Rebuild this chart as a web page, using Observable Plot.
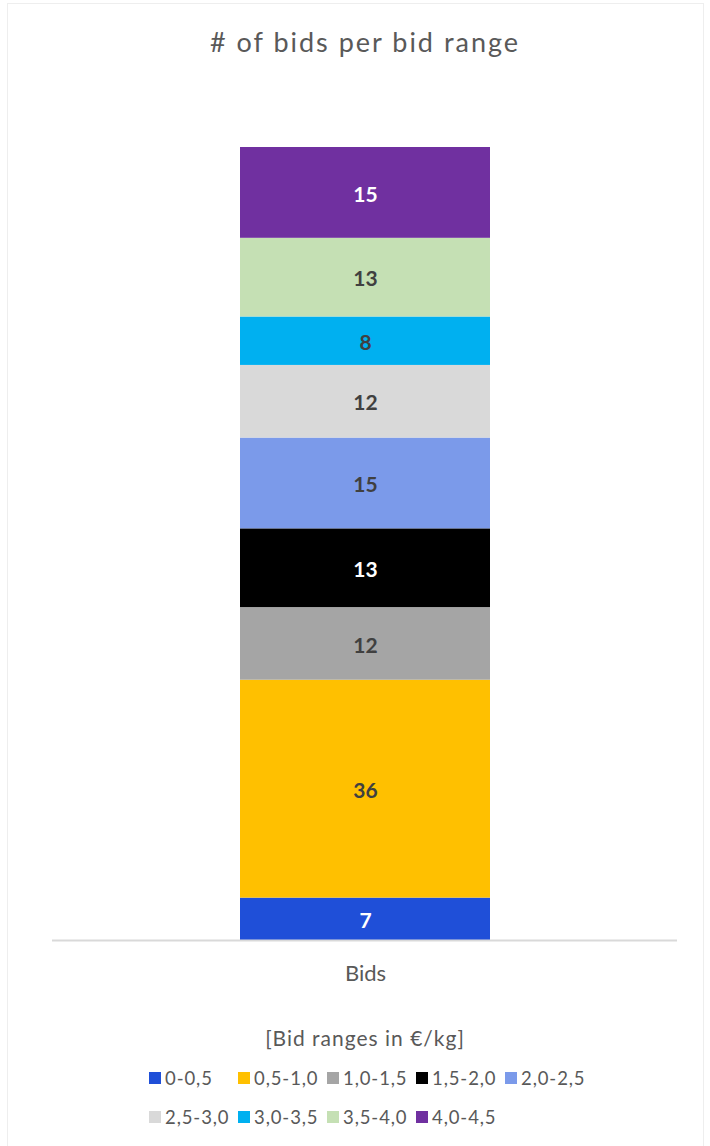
<!DOCTYPE html>
<html>
<head>
<meta charset="utf-8">
<script src="https://cdn.jsdelivr.net/npm/d3@7"></script>
<script src="https://cdn.jsdelivr.net/npm/@observablehq/plot@0.6"></script>
<style>
  html, body { margin: 0; padding: 0; background: #fff; }
  body { width: 710px; height: 1146px; position: relative; overflow: hidden; font-family: "Lato", "Noto Sans", sans-serif; }
  #frame { position: absolute; left: 7px; top: 3px; width: 697px; height: 1160px; border: 1.5px solid #eeeeee; box-sizing: border-box; }
  #title { position: absolute; left: 0; width: 730px; top: 25px; text-align: center; font-size: 27px; color: #595959; letter-spacing: 2px; }
  #chart { position: absolute; left: 0; top: 100px; }
  #legtitle { position: absolute; left: 0; width: 730px; top: 1025px; text-align: center; font-size: 21px; color: #595959; letter-spacing: 1px; }
  #legend { position: absolute; left: 149px; top: 1066px; display: grid; grid-template-columns: repeat(5, 89px); row-gap: 15px; font-size: 18.5px; color: #595959; letter-spacing: 0.9px; }
  .item { display: flex; align-items: center; white-space: nowrap; height: 24px; }
  .sw { width: 12px; height: 12px; margin-right: 4px; flex: none; }
</style>
</head>
<body>
<div id="frame"></div>
<div id="title"># of bids per bid range</div>
<div id="chart"></div>
<div id="legtitle">[Bid ranges in €/kg]</div>
<div id="legend"></div>
<script>
const categories = ["Bids"];
const ranges = ["0-0,5", "0,5-1,0", "1,0-1,5", "1,5-2,0", "2,0-2,5", "2,5-3,0", "3,0-3,5", "3,5-4,0", "4,0-4,5"];
const counts = [7, 36, 12, 13, 15, 12, 8, 13, 15];
const colors = ["#1f4fd8", "#ffc000", "#a5a5a5", "#000000", "#7b9aea", "#d9d9d9", "#00b0f0", "#c5e0b4", "#7030a0"];
const labelColors = ["#ffffff", "#404040", "#404040", "#ffffff", "#404040", "#404040", "#404040", "#404040", "#ffffff"];

const data = ranges.map((r, i) => ({category: categories[0], range: r, count: counts[i], lc: labelColors[i]}));
const total = d3.sum(counts);

const chart = Plot.plot({
  width: 710,
  height: 900,
  marginLeft: 52,
  marginRight: 33,
  marginTop: 47,
  marginBottom: 60,
  style: {fontFamily: "Lato, 'Noto Sans', sans-serif", background: "transparent"},
  x: {domain: categories, padding: 0.4286, label: null},
  y: {domain: [0, total], axis: null},
  color: {domain: ranges, range: colors},
  marks: [
    Plot.barY(data, {x: "category", y: "count", fill: "range", order: ranges}),
    Plot.text(data, Plot.stackY({x: "category", y: "count", order: ranges, text: "count", fill: "lc", fontSize: 21, fontWeight: "bold", dy: 2})),
    Plot.ruleY([0], {stroke: "#d9d9d9", strokeWidth: 2}),
    Plot.axisX({tickSize: 0, tickPadding: 25, fontSize: 22, color: "#595959", fill: "#595959"})
  ]
});
document.getElementById("chart").appendChild(chart);

const leg = document.getElementById("legend");
ranges.forEach((r, i) => {
  const it = document.createElement("div");
  it.className = "item";
  it.innerHTML = `<span class="sw" style="background:${colors[i]}"></span><span>${r}</span>`;
  leg.appendChild(it);
});
</script>
</body>
</html>
